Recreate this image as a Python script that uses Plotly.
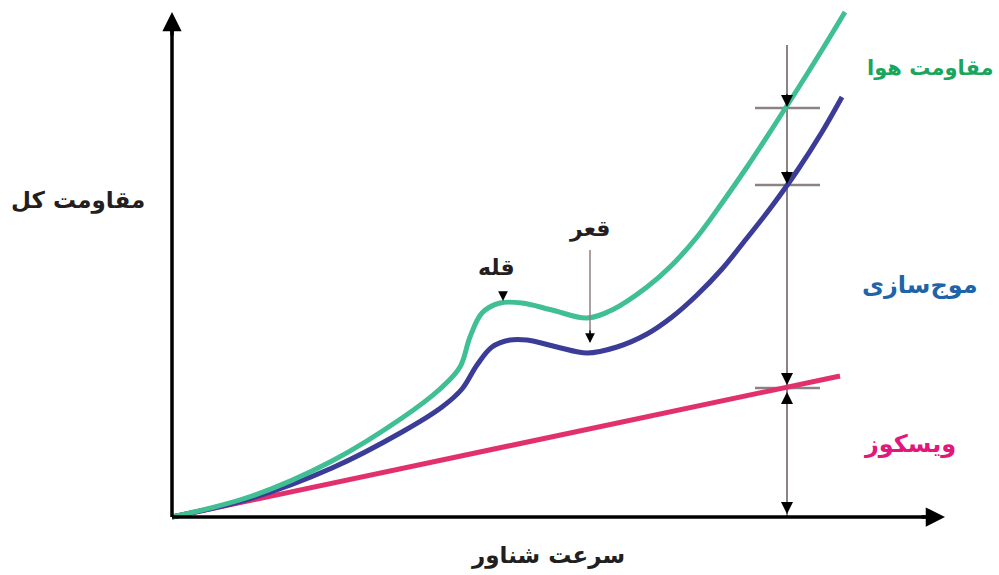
import plotly.graph_objects as go

# Conceptual data (speed units on x, resistance units on y)
green_x = [0, 80, 160, 230, 268, 288, 298, 310, 328, 350, 380, 415, 440, 475, 500, 525, 550, 575, 600, 625, 650, 673]
green_y = [0, 21, 56, 99, 128, 150, 180, 204, 214, 214, 207, 199, 207, 230, 252, 280, 314, 350, 388, 427, 467, 505]

blue_x = [0, 80, 160, 230, 270, 290, 305, 320, 338, 355, 385, 415, 445, 475, 500, 525, 550, 575, 600, 625, 650, 670]
blue_y = [0, 19, 49, 85, 110, 128, 152, 170, 177, 177, 170, 164, 170, 183, 200, 222, 248, 279, 311, 346, 385, 420]

pink_x = [0, 668]
pink_y = [0, 141]

measure_x = 615
level_air = 409
level_wave = 332
level_visc = 129

labels = {
    "total": "مقاومت کل",
    "speed": "سرعت شناور",
    "air": "مقاومت هوا",
    "wave": "موج‌سازی",
    "visc": "ویسکوز",
    "peak": "قله",
    "trough": "قعر",
}

FONT = "DejaVu Sans, Noto Sans, sans-serif"

fig = go.Figure()
fig.add_trace(go.Scatter(x=pink_x, y=pink_y, mode="lines",
                         line=dict(color="#e2306e", width=5), hoverinfo="skip"))
fig.add_trace(go.Scatter(x=blue_x, y=blue_y, mode="lines",
                         line=dict(color="#3b3c98", width=5, shape="spline", smoothing=1.0), hoverinfo="skip"))
fig.add_trace(go.Scatter(x=green_x, y=green_y, mode="lines",
                         line=dict(color="#3fbf93", width=5, shape="spline", smoothing=1.0), hoverinfo="skip"))

shapes = []
# measurement vertical line
shapes.append(dict(type="line", x0=measure_x, x1=measure_x, y0=0, y1=472,
                   line=dict(color="#8c8282", width=2), layer="below"))
for lv in [level_air, level_wave, level_visc]:
    shapes.append(dict(type="line", x0=measure_x - 32, x1=measure_x + 33, y0=lv, y1=lv,
                       line=dict(color="#8c8282", width=2.5), layer="below"))
# trough pointer
shapes.append(dict(type="line", x0=418, x1=418, y0=267, y1=175,
                   line=dict(color="#8c8282", width=1.5)))
# axes
shapes.append(dict(type="line", x0=0, x1=768, y0=0, y1=0, line=dict(color="black", width=3.5)))
shapes.append(dict(type="line", x0=0, x1=0, y0=0, y1=498, line=dict(color="black", width=3.5)))

ann = []
def arrow(x, y, ax, ay, w=2, size=1.2, color="black", head=2):
    ann.append(dict(x=x, y=y, ax=ax, ay=ay, xref="x", yref="y", axref="pixel", ayref="pixel",
                    text="", showarrow=True, arrowhead=head, arrowsize=size,
                    arrowwidth=w, arrowcolor=color))

# axis arrowheads
arrow(773, 0, -25, 0, w=3.5, size=1.1)
arrow(0, 505, 0, 25, w=3.5, size=1.1)
# measurement arrowheads
arrow(measure_x, level_air + 1, 0, -14, w=2, size=1.2)
arrow(measure_x, level_wave + 1, 0, -14, w=2, size=1.2)
arrow(measure_x, level_visc + 3, 0, -12, w=2, size=1.2)
arrow(measure_x, level_visc - 4, 0, 12, w=2, size=1.2)
arrow(measure_x, 3, 0, -12, w=2, size=1.2)
# peak / trough pointers
arrow(331, 216, 0, -10, w=1.5, size=1.3)
arrow(418, 174, 0, -14, w=1.5, size=1.3)

def label(x, y, text, color, size=22):
    ann.append(dict(x=x, y=y, xref="x", yref="y", text="<b>%s</b>" % text, showarrow=False,
                    font=dict(family=FONT, size=size, color=color)))

label(-94, 317, labels["total"], "#231f20", 23)
label(376, -38, labels["speed"], "#231f20", 23)
label(758, 449, labels["air"], "#1aa55c", 21)
label(748, 232, labels["wave"], "#1f63a8", 24)
label(738, 73, labels["visc"], "#e3167b", 24)
label(324, 250, labels["peak"], "#231f20", 22)
label(418, 288, labels["trough"], "#231f20", 22)

fig.update_layout(
    width=999, height=575,
    margin=dict(l=0, r=0, t=0, b=0),
    paper_bgcolor="white", plot_bgcolor="white",
    showlegend=False,
    shapes=shapes, annotations=ann,
    xaxis=dict(range=[-172, 827], visible=False, fixedrange=True),
    yaxis=dict(range=[-58, 517], visible=False, fixedrange=True),
)

fig.write_html("out.html", config={"displayModeBar": False},
               post_script="document.body.style.margin='0';")
